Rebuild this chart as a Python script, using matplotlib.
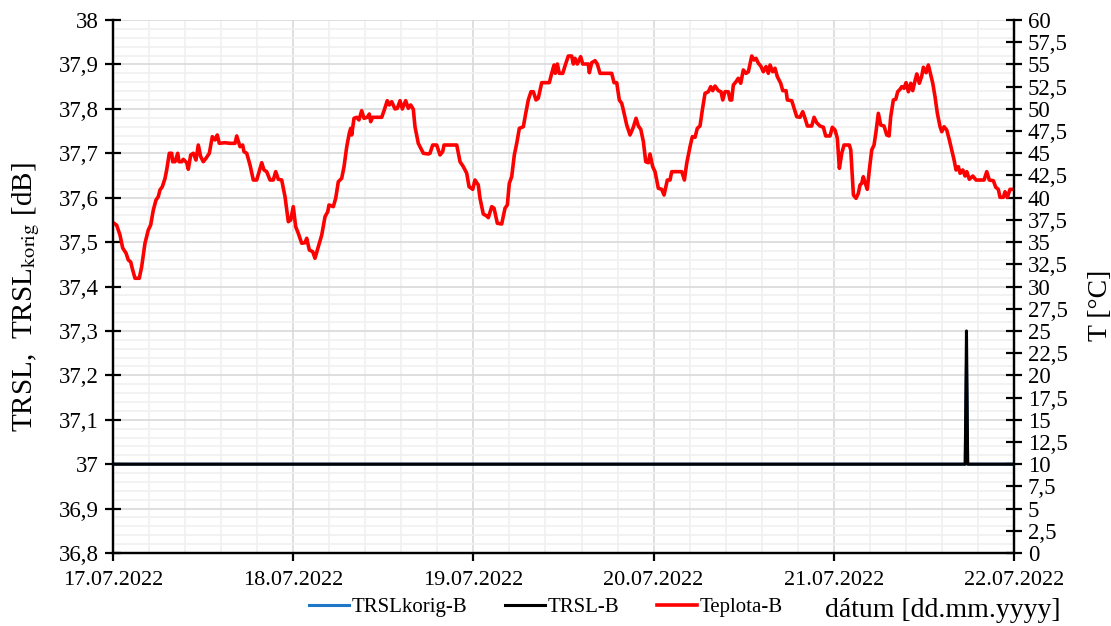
import numpy as np
import matplotlib.pyplot as plt
from matplotlib.ticker import MultipleLocator, FuncFormatter

plt.rcParams['font.family'] = ['Liberation Serif', 'DejaVu Serif']
plt.rcParams['mathtext.fontset'] = 'stix'

# casy merania v hodinach od 17.07.2022 00:00
day_labels = ['17.07.2022', '18.07.2022', '19.07.2022', '20.07.2022', '21.07.2022', '22.07.2022']

# TRSL-B [dB]
trsl_t = [0.0, 113.5, 113.67, 113.83, 120.0]
trsl = [37.0, 37.0, 37.3, 37.0, 37.0]

# TRSLkorig-B [dB]
trslk_t = [0.0, 113.5, 113.67, 113.83, 120.0]
trslk = [37.0, 37.0, 37.22, 37.0, 37.0]

# Teplota-B [°C]
tep_t = [0.0, 0.49, 0.93, 1.29, 1.73, 2.04, 2.36, 2.62, 2.93, 3.50, 3.82, 4.26, 4.70, 5.02, 5.37,
         5.73, 6.03, 6.26, 6.57, 6.93, 7.15, 7.50, 7.82, 7.95, 8.26, 8.62, 8.79, 9.15, 9.36, 9.82,
         10.03, 10.35, 10.70, 11.05, 11.36, 11.68, 12.03, 12.39, 12.83, 13.23, 13.59, 13.89, 14.16,
         14.92, 15.58, 16.25, 16.48, 16.92, 17.27, 17.45, 17.81, 18.25, 18.69, 19.14, 19.81, 20.11,
         20.47, 20.91, 21.35, 21.67, 22.02, 22.47, 22.91, 23.35, 23.67, 24.01, 24.33, 24.68,
         25.13, 25.57, 25.80, 26.15, 26.60, 26.90, 27.34, 27.80, 28.24, 28.60, 28.77, 29.34, 29.66,
         30.01, 30.46, 30.77, 31.13, 31.47, 31.66, 31.79, 32.10, 32.46, 32.76, 33.12, 33.43, 33.87,
         34.14, 34.32, 34.59, 35.79, 36.13, 36.53, 36.80, 37.12, 37.56, 37.87, 38.23, 38.53, 38.98,
         39.33, 39.65, 40.00, 40.22, 40.66, 40.89, 41.33, 42.00, 42.22, 42.58, 43.11, 43.55, 43.91,
         44.09, 45.78, 46.22, 46.66, 47.11, 47.42, 47.91, 48.21, 48.65, 48.88,
         49.32, 49.77, 49.99, 50.44, 50.75, 51.19, 51.77, 52.21, 52.52, 52.78, 53.10, 53.45, 53.77,
         54.12, 54.65, 54.97, 55.31, 55.67, 55.98, 56.34, 56.64, 57.10, 58.11, 58.43, 58.74, 58.91,
         59.18, 59.44, 59.90, 60.20, 60.64, 61.09, 61.31, 61.53, 61.84, 62.29, 62.56, 63.30, 63.44,
         63.76, 64.20, 64.50, 64.86, 66.42, 66.73, 67.09, 67.43, 67.75, 67.97, 68.42, 68.86, 69.30,
         69.66, 69.97, 70.29, 70.64, 70.95, 71.30, 71.52, 71.88, 72.19, 72.63,
         73.08, 73.39, 73.83, 74.19, 74.41, 75.75, 76.10, 76.41, 76.85, 77.16, 77.52, 77.82, 78.18,
         78.49, 78.85, 79.29, 79.61, 79.87, 80.18, 80.62, 80.98, 81.21, 81.51, 81.95, 82.18, 82.40,
         82.62, 82.98, 83.28, 83.60, 83.95, 84.31, 84.62, 85.07, 85.37, 85.64, 85.95, 86.27, 86.61,
         86.97, 87.28, 87.51, 87.86, 88.17, 88.48, 88.93, 89.20, 89.64, 89.81, 90.40, 90.71, 91.06,
         91.50, 91.86, 92.17, 92.48, 93.06, 93.37, 93.72, 94.16, 94.61, 94.92, 95.50, 95.80, 96.16,
         96.47, 96.74, 97.06, 97.36, 98.07, 98.26, 98.61, 98.96, 99.27, 99.49, 99.72, 99.93, 100.16,
         100.46, 100.73, 101.05, 101.36, 101.62, 101.93, 102.25, 102.69, 103.05, 103.36, 103.58,
         103.93, 104.25, 104.51, 104.82, 105.05, 105.35, 105.62, 105.93, 106.25, 106.51, 106.82,
         107.05, 107.39, 107.71, 107.93, 108.29, 108.59, 108.91, 109.18, 109.48, 109.79, 110.15,
         110.38, 110.68, 111.04, 111.39, 111.71, 112.02, 112.28, 112.59, 112.82, 113.18, 113.48,
         113.71, 114.05, 114.51, 114.94, 116.01, 116.37, 116.71, 117.25, 117.57, 117.91, 118.14,
         118.58, 118.80, 119.11, 119.47, 120.0]
tep = [37.2, 36.9, 35.8, 34.34, 33.77, 32.99, 32.76, 31.86, 30.93, 30.93, 32.23, 34.87, 36.36, 36.93,
       38.61, 39.74, 40.11, 40.87, 41.24, 42.18, 43.12, 45.0, 45.0, 44.05, 44.05, 45.0, 44.05, 44.05,
       44.32, 43.94, 43.2, 44.81, 45.0, 44.24, 45.93, 44.62, 44.05, 44.44, 45.0, 46.87, 46.5, 47.06,
       46.12, 46.19, 46.12, 46.12, 46.95, 45.74, 45.93, 45.18, 45.0, 43.68, 41.99, 41.99, 43.94,
       43.12, 42.93, 41.99, 41.99, 42.93, 42.07, 41.99, 40.11, 37.3, 37.49, 38.99, 36.73, 35.99,
       34.87, 34.93, 35.43, 34.11, 33.92, 33.18, 34.48, 35.8, 37.86, 38.42, 39.18, 38.99, 39.93,
       41.8, 42.18, 43.49, 45.74, 47.25, 47.81, 47.06, 48.94, 49.05, 48.75, 49.79, 48.94, 49.05,
       49.42, 48.56, 49.05, 49.05, 49.87, 50.92, 50.44, 50.81, 49.99, 50.06, 50.92, 49.99, 50.92,
       50.06, 50.44, 49.95, 47.99, 46.12, 45.74, 45.0, 44.92, 45.0, 45.93, 45.93, 44.81, 45.18,
       45.93, 45.93, 44.05, 43.49, 42.75, 41.24, 40.94, 41.99, 41.43, 39.93,
       38.16, 37.94, 37.75, 38.99, 38.81, 37.12, 37.04, 38.81, 39.18, 41.62, 42.36, 44.81, 46.12,
       47.81, 47.99, 49.5, 51.0, 51.93, 51.93, 51.0, 51.19, 52.95, 52.95, 54.0, 54.94, 54.0,
       55.05, 54.0, 54.0, 54.83, 55.95, 55.95, 55.05, 55.69, 55.05, 55.87, 55.05, 55.05, 54.07,
       55.2, 55.42, 55.05, 54.0, 54.0, 52.95, 52.95, 51.0, 50.63, 49.87, 48.18, 47.06, 47.93,
       48.94, 48.07, 47.7, 46.3, 44.05, 43.94, 44.92, 43.49, 42.93, 41.06,
       40.94, 40.3, 41.99, 41.99, 42.93, 42.93, 41.99, 43.87, 45.74, 46.87, 46.8, 47.81, 48.07,
       49.87, 51.75, 51.93, 52.5, 52.05, 52.57, 52.05, 51.93, 51.0, 51.93, 51.93, 51.0, 51.0,
       52.69, 53.06, 53.44, 52.88, 54.38, 54.0, 54.18, 55.95, 55.5, 55.69, 55.13, 54.83, 54.18,
       54.75, 54.0, 54.94, 54.18, 54.57, 53.62, 52.88, 52.05, 52.05, 51.0, 50.92, 50.06, 49.12,
       49.05, 49.68, 48.94, 48.07, 48.07, 49.05, 48.44, 48.07, 47.93, 46.95, 46.95, 47.93, 47.62,
       46.69, 43.31, 45.0, 45.93, 45.93, 45.37, 40.3, 39.93, 40.49, 41.43, 41.62, 42.36, 41.69,
       40.94, 43.12, 45.37, 45.93, 47.43, 49.5, 48.18, 48.07, 47.06, 46.95, 49.12,
       51.0, 51.08, 51.93, 52.2, 52.5, 52.32, 52.95, 51.93, 52.88, 52.05, 53.17,
       53.93, 52.88, 53.7, 54.68, 54.07, 54.94, 53.81, 52.88, 51.37, 49.5, 47.99,
       47.43, 47.99, 47.62, 46.5, 45.37, 44.24, 43.12, 43.49, 42.75, 43.12, 42.44,
       42.93, 42.07, 42.44, 41.99, 41.99, 42.93, 41.99, 41.91, 41.17, 40.94, 40.04,
       40.04, 40.67, 40.04, 40.94, 40.94]


def comma(v, pos=None):
    return ('%g' % round(v, 2)).replace('.', ',')


fig = plt.figure(figsize=(11.11, 6.26), dpi=100)
ax = fig.add_axes([0.1017, 0.1166, 0.8110, 0.8514])
ax2 = ax.twinx()

l1, = ax.plot(trslk_t, trslk, color='#1f77c8', lw=2.2, label='TRSLkorig-B')
l2, = ax.plot(trsl_t, trsl, color='black', lw=2.2, label='TRSL-B')
l3, = ax2.plot(tep_t, tep, color='#ff0000', lw=2.6, label='Teplota-B')

ax.set_xlim(0, 120)
ax.set_ylim(36.8, 38)
ax2.set_ylim(0, 60)

ax.set_xticks(np.arange(0, 121, 24))
ax.set_xticklabels(day_labels)
ax.xaxis.set_minor_locator(MultipleLocator(4.8))
ax.yaxis.set_major_locator(MultipleLocator(0.1))
ax.yaxis.set_minor_locator(MultipleLocator(0.02))
ax.yaxis.set_major_formatter(FuncFormatter(comma))
ax2.yaxis.set_major_locator(MultipleLocator(2.5))
ax2.yaxis.set_major_formatter(FuncFormatter(comma))

ax.grid(which='major', color='#d9d9d9', lw=1.2)
ax.grid(which='minor', color='#f0f0f0', lw=1.2)
ax.set_axisbelow(True)

for a in (ax, ax2):
    a.spines['top'].set_visible(False)
    for s in ('left', 'right', 'bottom'):
        a.spines[s].set_linewidth(1.6)
        a.spines[s].set_color('black')
ax.tick_params(axis='y', which='major', direction='inout', length=12, width=1.6, labelsize=16.5, pad=4)
ax.tick_params(axis='x', which='major', direction='out', length=6, width=1.6, labelsize=16, pad=7)
ax.tick_params(which='minor', length=0)
ax2.tick_params(axis='y', which='major', direction='inout', length=12, width=1.6, labelsize=16.5, pad=4)
ax2.tick_params(axis='y', which='minor', length=0)

ax.set_ylabel(r'TRSL,  TRSL$_{\mathrm{korig}}$ [dB]', fontsize=21)
ax.yaxis.set_label_coords(-0.079, 0.48)
ax2.set_ylabel('T [°C]', fontsize=20)
ax2.yaxis.set_label_coords(1.082, 0.465)
ax.set_xlabel('dátum [dd.mm.yyyy]', fontsize=20, loc='right')
ax.xaxis.set_label_coords(1.052, -0.085)

fig.legend(handles=[l1, l2, l3], loc='center', bbox_to_anchor=(0.4915, 0.03), ncol=3,
           frameon=False, fontsize=15, handlelength=1.9, handletextpad=0.15, columnspacing=1.8)

fig.savefig('out.png', dpi=100)
